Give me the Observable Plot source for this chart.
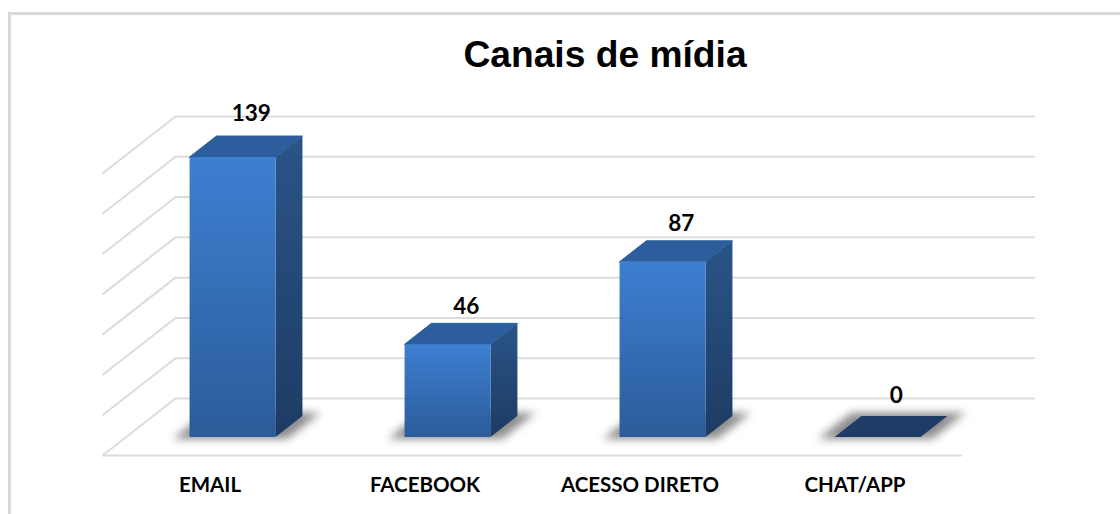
<!DOCTYPE html>
<html lang="pt">
<head>
<meta charset="utf-8">
<title>Canais de mídia</title>
<script src="https://cdn.jsdelivr.net/npm/d3@7"></script>
<script src="https://cdn.jsdelivr.net/npm/@observablehq/plot@0.6"></script>
<style>
  html, body { margin: 0; padding: 0; background: #fff; }
  #page { position: relative; width: 1120px; height: 514px; overflow: hidden; }
  #frame { position: absolute; left: 8px; top: 12px; right: -10px; bottom: -10px;
           border-left: 3px solid #d9d9d9; border-top: 3px solid #d9d9d9; }
  #title { position: relative; box-sizing: border-box; height: 86px; padding: 33px 0 0 90px;
           text-align: center; font: bold 37.2px/42px "Liberation Sans", Arial, sans-serif; color: #000; }
  svg { display: block; position: relative; }
</style>
</head>
<body>
<div id="page">
  <div id="frame"></div>
  <div id="title">Canais de mídia</div>
</div>
<script>
const categories = ["EMAIL", "FACEBOOK", "ACESSO DIRETO", "CHAT/APP"];
const values = [139, 46, 87, 0];
const gridValues = [0, 20, 40, 60, 80, 100, 120, 140];

const labelFont = "Lato, 'Open Sans', sans-serif";
const depthX = 0.3395, depthY = 28.3;     // floor depth in x-units and value-units
const barFront = 0.316, barBack = 0.684;  // bar position across the floor depth
const halfWidth = 0.2;                    // half bar width in x-units
const labelLift = [11.5, 8.5, 8.5, 10.5]; // label clearance in value-units

const px = (i, side, d) => i + 0.5 + side + d * depthX;
const py = (v, d) => v + d * depthY;

const bars = categories.map((name, i) => ({name, i, v: values[i]}));
const solid = bars.filter((b) => b.v > 0);

const frontFaces = solid.map((b) => ({
  x1: px(b.i, -halfWidth, barFront), x2: px(b.i, halfWidth, barFront),
  y1: py(0, barFront), y2: py(b.v, barFront)
}));
const sideFaces = solid.flatMap((b) => [barFront, barBack].map((d) => ({
  z: b.name, x: px(b.i, halfWidth, d), y1: py(0, d), y2: py(b.v, d)
})));
const topFaces = bars.flatMap((b) => [barFront, barBack].map((d) => ({
  z: b.name, empty: b.v === 0,
  x1: px(b.i, -halfWidth, d), x2: px(b.i, halfWidth, d), y: py(b.v, d)
})));
const shadows = bars.flatMap((b) => [0.28, 0.74].map((d) => ({
  z: b.name, x1: px(b.i, -0.265, d), x2: px(b.i, 0.265, d), y: py(0, d)
})));

const blur = (amount) => (index, scales, channels, dimensions, context, next) => {
  const g = next(index, scales, channels, dimensions, context);
  g.style.filter = `blur(${amount}px)`;
  return g;
};

const defs = () => {
  const g = d3.create("svg:defs");
  g.html(`
    <linearGradient id="front" x1="0" y1="0" x2="0" y2="1">
      <stop offset="0" stop-color="#3d7fd2"/><stop offset="1" stop-color="#2b5c99"/>
    </linearGradient>
    <linearGradient id="side" x1="0" y1="0" x2="0" y2="1">
      <stop offset="0" stop-color="#2a5487"/><stop offset="1" stop-color="#1d3c64"/>
    </linearGradient>`);
  return g.node();
};

const plot = Plot.plot({
  width: 1120,
  height: 428,
  marginLeft: 102,
  marginRight: 158,
  marginTop: 30,
  marginBottom: 59,
  x: {domain: [0, 4]},
  y: {domain: [0, 140 + depthY], axis: null},
  style: {background: "transparent", overflow: "visible"},
  marks: [
    defs,
    Plot.ruleY(gridValues, {
      x1: depthX, x2: 4 + depthX,
      y: (v) => py(v, 1), stroke: "#dcdcdc", strokeWidth: 2
    }),
    Plot.link(gridValues, {
      x1: depthX, y1: (v) => py(v, 1),
      x2: 0, y2: (v) => py(v, 0),
      stroke: "#dcdcdc", strokeWidth: 2
    }),
    Plot.ruleY([0], {x1: 0, x2: 4, stroke: "#dcdcdc", strokeWidth: 2}),
    Plot.area(shadows, {
      x1: "x1", x2: "x2", y1: "y", y2: "y", z: "z",
      fill: "#8c8c8c", render: blur(4)
    }),
    Plot.areaY(sideFaces, {x: "x", y1: "y1", y2: "y2", z: "z", fill: "url(#side)"}),
    Plot.area(topFaces.filter((f) => !f.empty), {
      x1: "x1", x2: "x2", y1: "y", y2: "y", z: "z",
      fill: "#2c5e9d", stroke: "#2c5e9d", strokeWidth: 1, strokeLinejoin: "round"
    }),
    Plot.area(topFaces.filter((f) => f.empty), {
      x1: "x1", x2: "x2", y1: "y", y2: "y", z: "z", fill: "#1e3d66"
    }),
    Plot.rect(frontFaces, {x1: "x1", x2: "x2", y1: "y1", y2: "y2", fill: "url(#front)", inset: 0}),
    Plot.text(bars, {
      x: (b) => px(b.i, 0, barBack) - 0.04,
      y: (b) => py(b.v, barBack) + labelLift[b.i],
      text: (b) => String(b.v),
      fontFamily: labelFont, fontWeight: 700, fontSize: 22.5, fill: "#000"
    }),
    Plot.axisX({
      ticks: categories.map((_, i) => i + 0.5),
      tickFormat: (t) => categories[Math.round(t - 0.5)],
      tickSize: 0, tickPadding: 22, label: null,
      fontFamily: labelFont, fontWeight: 700, fontSize: 20.5, fill: "#000"
    })
  ]
});
document.getElementById("page").appendChild(plot);
</script>
</body>
</html>
